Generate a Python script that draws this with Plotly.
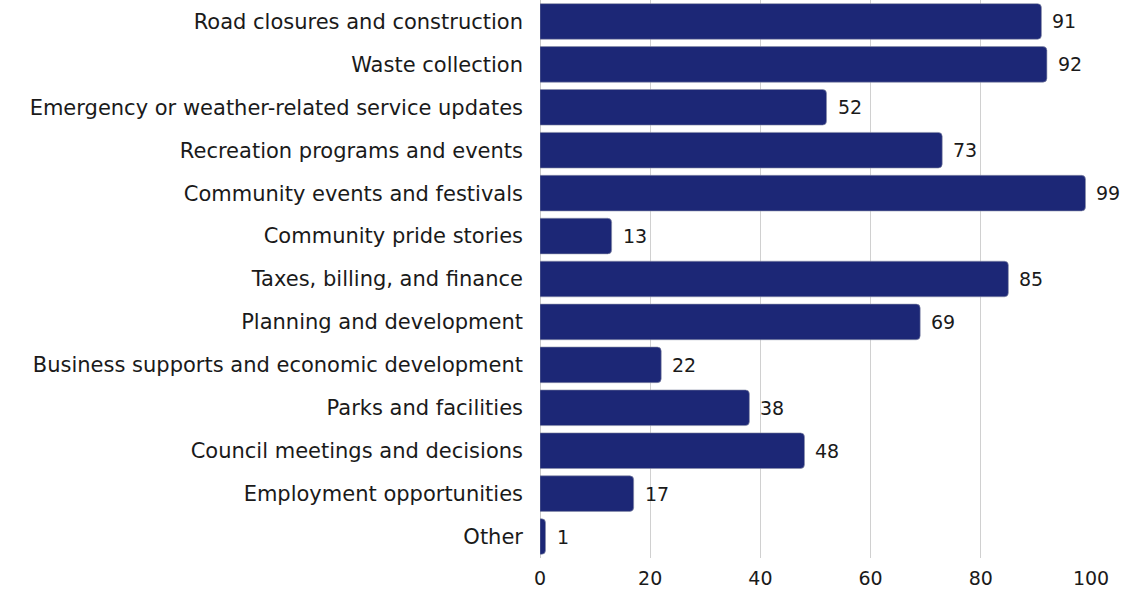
import plotly.graph_objects as go

categories = [
    "Road closures and construction",
    "Waste collection",
    "Emergency or weather-related service updates",
    "Recreation programs and events",
    "Community events and festivals",
    "Community pride stories",
    "Taxes, billing, and finance",
    "Planning and development",
    "Business supports and economic development",
    "Parks and facilities",
    "Council meetings and decisions",
    "Employment opportunities",
    "Other",
]
counts = [91, 92, 52, 73, 99, 13, 85, 69, 22, 38, 48, 17, 1]
x_ticks = [0, 20, 40, 60, 80, 100]

BAR_COLOR = "#1c2776"
FONT = "DejaVu Sans"
TEXT_COLOR = "#1a1a1a"
LABEL_SIZE = 21
NUM_SIZE = 19

fig = go.Figure(
    go.Bar(
        x=counts,
        y=categories,
        orientation="h",
        marker=dict(color=BAR_COLOR, line=dict(color="#8a8fa8", width=0.6)),
        hoverinfo="x+y",
    )
)

# value labels just past the end of each bar
for cat, val in zip(categories, counts):
    fig.add_annotation(
        x=val, y=cat, text=str(val),
        xanchor="left", yanchor="middle",
        xshift=9, yshift=0, showarrow=False,
        font=dict(family=FONT, size=NUM_SIZE, color=TEXT_COLOR),
    )

fig.update_layout(
    width=1123,
    height=590,
    paper_bgcolor="white",
    plot_bgcolor="white",
    margin=dict(l=540, r=32, t=0, b=32),
    bargap=0.17,
    barcornerradius=4,
    showlegend=False,
    font=dict(family=FONT, size=LABEL_SIZE, color=TEXT_COLOR),
    xaxis=dict(
        range=[0, 100],
        tickvals=x_ticks,
        showgrid=True,
        gridcolor="#d0d0d0",
        gridwidth=1,
        zeroline=True,
        zerolinecolor="#c8c8c8",
        zerolinewidth=1,
        showline=False,
        ticks="",
        ticklabelstandoff=7,
        tickfont=dict(family=FONT, size=NUM_SIZE, color=TEXT_COLOR),
    ),
    yaxis=dict(
        autorange="reversed",
        showgrid=False,
        ticks="",
        ticklabelstandoff=16,
        tickfont=dict(family=FONT, size=LABEL_SIZE, color=TEXT_COLOR),
    ),
)

fig.write_html("out.html")
